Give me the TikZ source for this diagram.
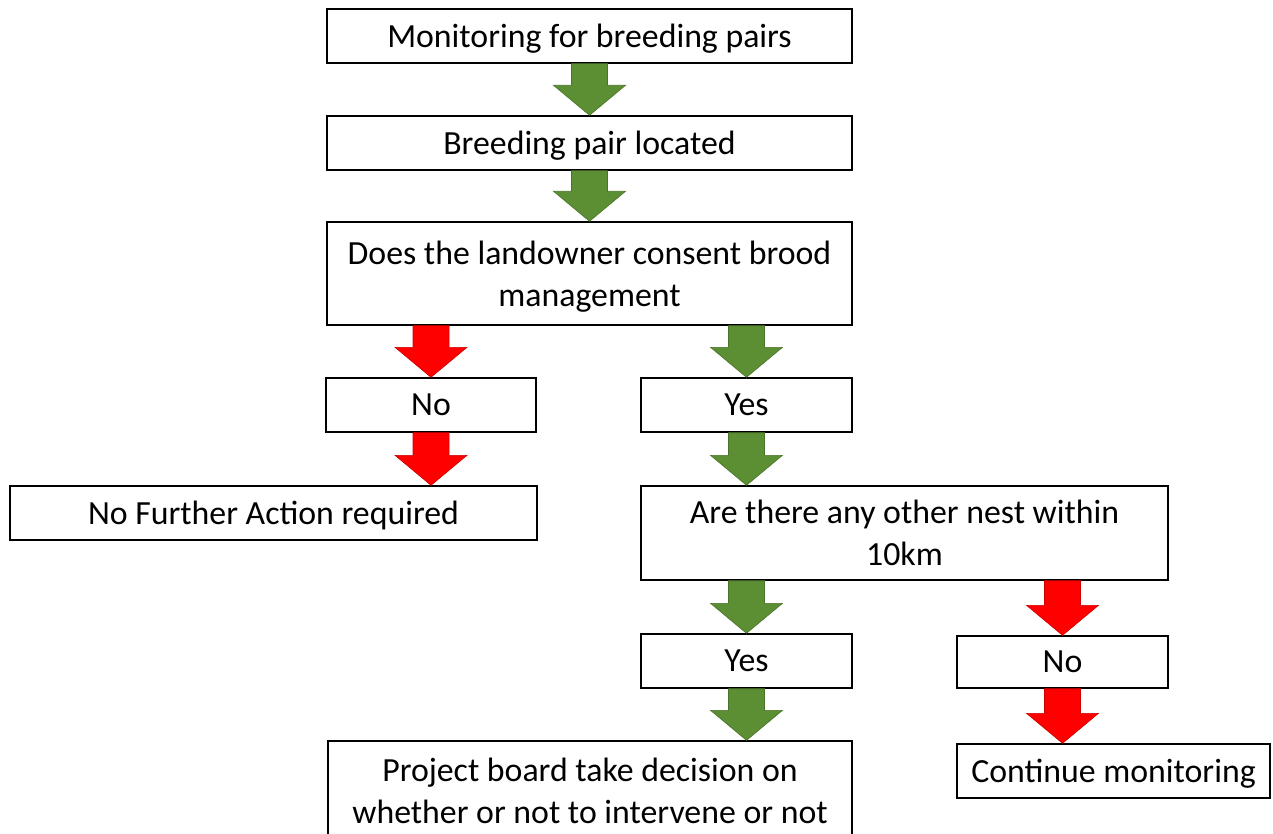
\documentclass[tikz,border=0pt]{standalone}
\usepackage{fontspec}
\setmainfont{Carlito}
\usetikzlibrary{calc}
\definecolor{arrgreen}{HTML}{5C8E33}
\definecolor{arrred}{HTML}{FF0000}
\tikzset{
  box/.style={draw=black, line width=1.4pt, fill=white, inner sep=0pt, align=center,
    text depth=0pt, font=\fontsize{33.8}{42}\selectfont},
}
\newcommand\blockarr[4]{%
  \filldraw[fill=#1, draw=#1!80!black, line width=0.6pt]
    let \p1=(#2.center), \p2=(#3.south), \p3=(#4.north) in
    ({\x1-18pt},{\y2}) -- ({\x1+18pt},{\y2}) -- ({\x1+18pt},{\y3+30pt})
    -- ({\x1+36pt},{\y3+30pt}) -- ({\x1},{\y3}) -- ({\x1-36pt},{\y3+30pt})
    -- ({\x1-18pt},{\y3+30pt}) -- cycle;}
\begin{document}
\begin{tikzpicture}[x=1pt,y=-1pt]
\fill[white] (0,0) rectangle (1273,834);
\useasboundingbox (0,0) rectangle (1273,834);
\begin{scope}
\clip (0,0) rectangle (1273,834);
\node[box, minimum width=525, minimum height=54] (b1) at (589.5,36) {Monitoring for breeding pairs};
\node[box, minimum width=525, minimum height=54] (b2) at (589.5,143) {Breeding pair located};
\node[box, minimum width=525, minimum height=103] (b3) at (589.5,273.5) {Does the landowner consent brood\\management};
\node[box, minimum width=210, minimum height=54] (no1) at (431,405) {No};
\node[box, minimum width=211, minimum height=54] (yes1) at (746.5,405) {Yes};
\node[box, minimum width=527, minimum height=54] (nfa) at (273.5,513) {No Further Action required};
\node[box, minimum width=527, minimum height=94] (q2) at (904.5,533) {Are there any other nest within\\10km};
\node[box, minimum width=211, minimum height=54] (yes2) at (746.5,661) {Yes};
\node[box, minimum width=211, minimum height=52] (no2) at (1062.5,662) {No};
\node[box, minimum width=524, minimum height=100] (pb) at (590,791) {Project board take decision on\\whether or not to intervene or not};
\node[box, minimum width=313, minimum height=54] (cm) at (1113.5,771) {Continue monitoring};
\end{scope}
\blockarr{arrgreen}{b2}{b1}{b2}
\blockarr{arrgreen}{b3}{b2}{b3}
\blockarr{arrred}{no1}{b3}{no1}
\blockarr{arrgreen}{yes1}{b3}{yes1}
\blockarr{arrred}{no1}{no1}{nfa}
\blockarr{arrgreen}{yes1}{yes1}{q2}
\blockarr{arrgreen}{yes2}{q2}{yes2}
\blockarr{arrred}{no2}{q2}{no2}
\blockarr{arrgreen}{yes2}{yes2}{pb}
\blockarr{arrred}{no2}{no2}{cm}
\end{tikzpicture}
\end{document}
